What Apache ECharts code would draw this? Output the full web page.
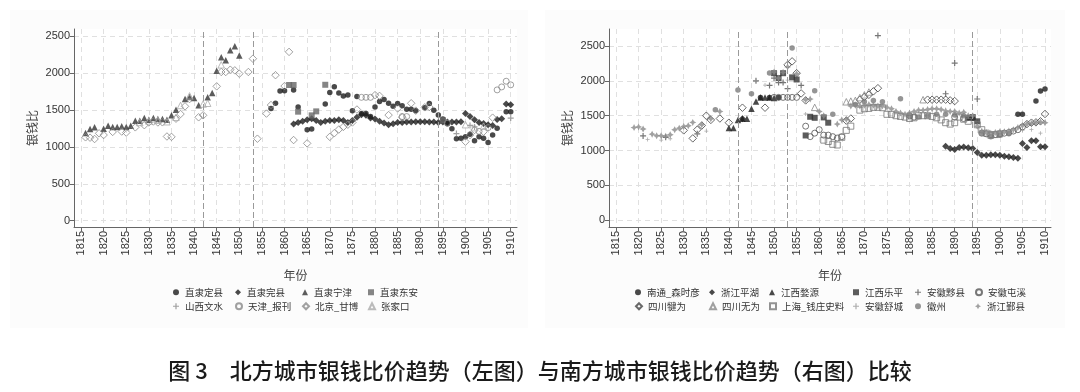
<!DOCTYPE html>
<html><head><meta charset="utf-8">
<script src="https://cdn.jsdelivr.net/npm/echarts@6/dist/echarts.min.js"></script>
<style>html,body{margin:0;padding:0;background:#fff}#c{width:1080px;height:392px}</style>
</head><body><div id="c"></div>
<script>
// ---------- tick labels ----------
const xTicks = [1815,1820,1825,1830,1835,1840,1845,1850,1855,1860,1865,1870,1875,1880,1885,1890,1895,1900,1905,1910];
const yTicks = [0,500,1000,1500,2000,2500];
const refYears = [1842,1853,1894];

// ---------- left chart (north) ----------
const lDingxian = [[1857,1520],[1858,1590],[1859,1755],[1860,1760],[1862,1770],[1863,1540],[1865,1230],[1866,1240],[1869,1580],[1870,1737],[1871,1812],[1872,1730],[1873,1688],[1874,1700],[1875,1487],[1876,1680],[1877,1450],[1878,1450],[1879,1410],[1880,1540],[1881,1615],[1882,1640],[1883,1590],[1884,1550],[1885,1585],[1886,1555],[1887,1510],[1888,1510],[1889,1490],[1891,1530],[1892,1585],[1893,1495],[1894,1430],[1895,1377],[1896,1313],[1897,1245],[1898,1110],[1899,1115],[1900,1137],[1901,1169],[1902,1083],[1903,1137],[1904,1115],[1905,1060],[1906,1160],[1907,1250],[1909,1476],[1910,1476]];
const lWanxian = [[1862,1310],[1863,1330],[1864,1345],[1865,1365],[1866,1380],[1867,1358],[1868,1330],[1869,1345],[1870,1358],[1871,1358],[1872,1367],[1873,1358],[1874,1331],[1875,1358],[1876,1399],[1877,1435],[1878,1426],[1879,1390],[1880,1376],[1881,1345],[1882,1322],[1883,1300],[1884,1313],[1885,1331],[1886,1331],[1887,1335],[1888,1335],[1889,1340],[1890,1340],[1891,1340],[1892,1335],[1893,1335],[1894,1330],[1895,1335],[1896,1335],[1897,1335],[1898,1335],[1899,1340],[1900,1450],[1901,1410],[1902,1365],[1903,1330],[1904,1315],[1905,1300],[1906,1290],[1907,1370],[1908,1380],[1909,1580],[1910,1570]];
const lNingjin = [[1816,1187],[1817,1241],[1818,1264],[1820,1246],[1821,1286],[1822,1268],[1823,1268],[1824,1277],[1825,1268],[1826,1286],[1827,1354],[1828,1354],[1829,1390],[1830,1367],[1831,1390],[1832,1377],[1833,1377],[1834,1367],[1835,1427],[1836,1503],[1838,1647],[1839,1674],[1840,1661],[1841,1562],[1843,1670],[1844,1728],[1845,2030],[1846,2212],[1847,2171],[1848,2306],[1849,2360],[1850,2238]];
const lDongan = [[1861,1837],[1862,1837],[1863,1476],[1866,1426],[1867,1480],[1869,1840],[1895,1360]];
const lWenshui = [[1898,1180],[1901,1290],[1902,1270],[1910,1390]];
const lTianjin = [[1877,1670],[1878,1670],[1879,1670],[1886,1410],[1887,1410],[1896,1320],[1903,1210],[1905,1260],[1907,1771],[1908,1811],[1909,1888],[1910,1839]];
const lBeijing = [[1816,1129],[1817,1124],[1818,1106],[1819,1183],[1820,1160],[1822,1202],[1824,1207],[1825,1193],[1827,1264],[1829,1293],[1830,1330],[1831,1343],[1832,1330],[1833,1332],[1834,1140],[1835,1135],[1836,1381],[1837,1444],[1838,1548],[1839,1647],[1841,1400],[1842,1427],[1845,1819],[1846,2013],[1847,2013],[1848,2044],[1849,2035],[1850,1990],[1852,2013],[1853,2193],[1854,1110],[1856,1450],[1857,1566],[1858,1970],[1860,1823],[1861,2285],[1862,1092],[1865,1047],[1870,1135],[1871,1185],[1872,1235],[1873,1270],[1874,1300],[1875,1330],[1876,1505],[1880,1700],[1881,1690],[1883,1430],[1885,1520],[1886,1400],[1888,1590],[1889,1490],[1891,1535],[1892,1540],[1900,1070],[1901,1160],[1902,1228],[1904,1205],[1906,1395]];
const lZhangjiakou = [[1828,1330],[1830,1350],[1832,1360],[1834,1340],[1836,1400],[1837,1560],[1839,1690],[1842,1580],[1843,1590],[1846,2110],[1900,1300],[1902,1260],[1904,1280]];

// ---------- right chart (south) ----------
const rNantong = [[1847,1760],[1849,1760],[1851,1760],[1893,1470],[1894,1460],[1904,1520],[1905,1520],[1908,1710],[1909,1855],[1910,1885]];
const rPinghu = [[1843,1455],[1888,1064],[1889,1030],[1890,1016],[1891,1045],[1892,1050],[1893,1040],[1894,1030],[1895,973],[1896,934],[1897,934],[1898,940],[1899,940],[1900,934],[1901,920],[1902,910],[1903,901],[1904,890],[1905,1100],[1906,1045],[1907,1140],[1908,1140],[1909,1055],[1910,1055]];
const rWuyuan = [[1840,1325],[1841,1325],[1842,1440],[1843,1455],[1844,1455],[1845,1600],[1846,1705],[1847,1760],[1848,1760],[1849,1760],[1850,1755]];
const rLeping = [[1850,2110],[1851,2040],[1852,2110],[1854,2050],[1855,2020],[1857,1217],[1858,1485],[1859,1470],[1861,1476],[1862,1400],[1893,1470],[1894,1480],[1895,1420]];
const rYixian = [[1821,1210],[1826,1190],[1833,1240],[1846,2000],[1849,1935],[1850,2040],[1851,1975],[1852,1975],[1853,1890],[1856,1935],[1873,2650],[1888,1815],[1890,2255],[1895,1740]];
const rTunxi = [[1850,1763],[1851,1763],[1852,1763],[1853,1763],[1854,1763],[1855,1763],[1857,1350],[1858,1200],[1859,1250],[1860,1300],[1861,1222],[1862,1222],[1863,1200],[1864,1180],[1865,1200],[1880,1500],[1881,1480],[1890,1480],[1892,1460],[1896,1250],[1897,1240],[1898,1230],[1899,1230],[1900,1240],[1901,1250],[1902,1260],[1903,1280],[1904,1300],[1905,1340]];
const rJianwei = [[1830,1290],[1832,1175],[1833,1300],[1834,1360],[1835,1500],[1836,1440],[1838,1460],[1840,1400],[1843,1615],[1848,1615],[1853,2230],[1854,2280],[1855,2110],[1856,1820],[1857,1720],[1866,1430],[1867,1460],[1869,1730],[1870,1770],[1871,1800],[1872,1850],[1873,1895],[1884,1730],[1885,1730],[1886,1730],[1887,1730],[1888,1730],[1889,1720],[1890,1710],[1906,1380],[1907,1400],[1908,1405],[1909,1420],[1910,1525]];
const rWuwei = [[1859,1620],[1866,1700],[1867,1710],[1868,1720],[1869,1760],[1870,1800],[1871,1840],[1883,1730]];
const rShanghai = [[1861,1150],[1862,1130],[1863,1090],[1864,1080],[1865,1190],[1866,1290],[1867,1350],[1869,1580],[1870,1600],[1871,1605],[1872,1620],[1873,1620],[1874,1615],[1875,1520],[1876,1520],[1877,1500],[1878,1490],[1879,1480],[1880,1460],[1881,1470],[1882,1500],[1883,1500],[1884,1500],[1885,1490],[1886,1470],[1887,1440],[1888,1400],[1889,1380],[1890,1400],[1891,1480],[1892,1450],[1893,1420],[1895,1370],[1896,1300],[1897,1250],[1898,1220],[1899,1230],[1900,1240]];
const rShucheng = [[1822,1160],[1825,1150],[1827,1170],[1833,1240],[1835,1280],[1846,2000],[1848,1940],[1853,2010],[1857,1525],[1868,1650],[1905,1290],[1907,1300],[1909,1250]];
const rHuizhou = [[1837,1586],[1842,1870],[1845,1816],[1849,2113],[1854,2470],[1859,1859],[1863,1520],[1868,1660],[1870,1700],[1872,1720],[1874,1700],[1878,1744],[1880,1500],[1882,1480],[1884,1500],[1886,1520],[1888,1520],[1890,1510],[1892,1500],[1896,1250],[1898,1200],[1900,1220],[1902,1240]];
const rYinxian = [[1819,1330],[1820,1340],[1821,1310],[1823,1236],[1824,1212],[1825,1212],[1826,1205],[1827,1227],[1828,1298],[1829,1322],[1830,1346],[1831,1356],[1832,1404],[1834,1370],[1836,1457],[1838,1560],[1850,2127],[1851,2040],[1852,2122],[1853,2200],[1855,2103],[1857,1730],[1858,1739],[1860,1560],[1861,1500],[1864,1380],[1865,1440],[1866,1450],[1867,1640],[1868,1650],[1869,1640],[1870,1650],[1871,1660],[1872,1650],[1873,1640],[1874,1640],[1875,1620],[1876,1600],[1877,1560],[1878,1540],[1879,1520],[1880,1540],[1881,1560],[1882,1580],[1883,1580],[1884,1590],[1885,1600],[1886,1600],[1887,1590],[1888,1570],[1889,1560],[1890,1560],[1891,1540],[1892,1550],[1893,1500],[1894,1500],[1895,1350],[1896,1280],[1897,1260],[1898,1250],[1899,1260],[1900,1270],[1901,1270],[1902,1280],[1903,1300],[1904,1330],[1905,1360],[1906,1380],[1907,1390],[1908,1400],[1909,1410],[1910,1400]];

// ---------- styling ----------
const CJK = '"Noto Sans CJK SC", sans-serif';
const NUM = '"Liberation Sans", Arial, sans-serif';
const PLUS = 'path://M-1,-5H1V-1H5V1H1V5H-1V1H-5V-1H-1Z';
const STAR = 'path://M0,-5L1.7,-1.7L5,0L1.7,1.7L0,5L-1.7,1.7L-5,0L-1.7,-1.7Z';
const HOL = 'rgba(255,255,255,0)';

// name, data, symbol, size, fill, border, grid
const defs = [
  ['直隶定县', lDingxian, 'circle', 5.5, '#1b1b1b', null, 0],
  ['直隶完县', lWanxian, 'diamond', 7, '#1b1b1b', null, 0],
  ['直隶宁津', lNingjin, 'triangle', 6.5, '#333', null, 0],
  ['直隶东安', lDongan, 'rect', 6, '#666', null, 0],
  ['山西文水', lWenshui, PLUS, 6, '#888', null, 0],
  ['天津_报刊', lTianjin, 'circle', 6, HOL, '#888', 0],
  ['北京_甘博', lBeijing, 'diamond', 7.5, HOL, '#8a8a8a', 0],
  ['张家口', lZhangjiakou, 'triangle', 6.5, HOL, '#aaa', 0],
  ['南通_森时彦', rNantong, 'circle', 5.5, '#1b1b1b', null, 1],
  ['浙江平湖', rPinghu, 'diamond', 7, '#1b1b1b', null, 1],
  ['江西婺源', rWuyuan, 'triangle', 6.5, '#1b1b1b', null, 1],
  ['江西乐平', rLeping, 'rect', 6, '#333', null, 1],
  ['安徽黟县', rYixian, PLUS, 6, '#555', null, 1],
  ['安徽屯溪', rTunxi, 'circle', 6, HOL, '#555', 1],
  ['四川犍为', rJianwei, 'diamond', 7.5, HOL, '#444', 1],
  ['四川无为', rWuwei, 'triangle', 6.5, HOL, '#888', 1],
  ['上海_钱庄史料', rShanghai, 'rect', 6, HOL, '#777', 1],
  ['安徽舒城', rShucheng, PLUS, 4, '#999', null, 1],
  ['徽州', rHuizhou, 'circle', 5.5, '#7a7a7a', null, 1],
  ['浙江鄞县', rYinxian, STAR, 7, '#8a8a8a', null, 1]
];

// legend layout: icon centre x per column, row centre y
const legLeftCols = [176, 238, 305, 371];
const legRightCols = [638, 712, 772, 856, 918, 978];
const legRows = [293.5, 307.5];

const series = defs.map((d) => ({
  type: 'scatter', name: d[0], data: d[1], symbol: d[2], symbolSize: d[3],
  xAxisIndex: d[6], yAxisIndex: d[6], silent: true, animation: false,
  itemStyle: d[5] ? {color: d[4], borderColor: d[5], borderWidth: 1} : {color: d[4]}
}));
[0, 8].forEach((si) => {
  series[si].markLine = {
    symbol: 'none', silent: true, animation: false, label: {show: false},
    lineStyle: {color: '#9a9a9a', type: [6, 3], width: 1},
    data: refYears.map(v => ({xAxis: v}))
  };
});

const legends = defs.map((d, i) => {
  const gi = d[6];
  const idx = gi === 0 ? i : i - 8;
  const cols = gi === 0 ? legLeftCols : legRightCols;
  const c = idx % cols.length, r = Math.floor(idx / cols.length);
  return {
    data: [{name: d[0], icon: d[2]}], left: cols[c] - 3, top: legRows[r] - 6,
    itemWidth: 6, itemHeight: 6, padding: 0, selectedMode: false,
    textStyle: {fontSize: 9.5, color: '#333', fontFamily: CJK, padding: [0, 0, 0, 1]}
  };
});

function xAxis(gi, min, max) {
  return {
    type: 'value', gridIndex: gi, min: min, max: max,
    name: '年份', nameLocation: 'middle', nameGap: 42,
    nameTextStyle: {fontSize: 12, color: '#444', fontFamily: CJK},
    axisLine: {show: true, onZero: false, lineStyle: {color: '#666', width: 1}},
    axisTick: {show: true, length: 4, lineStyle: {color: '#666'}, customValues: xTicks},
    axisLabel: {customValues: xTicks, rotate: 90, fontSize: 11, color: '#333', fontFamily: NUM, margin: 4, formatter: v => String(v)},
    splitLine: {show: true, lineStyle: {color: '#e0e0e0', type: [5, 4], width: 1}}
  };
}
function yAxis(gi, min, max, gap) {
  return {
    type: 'value', gridIndex: gi, min: min, max: max,
    name: '银钱比', nameLocation: 'middle', nameGap: gap,
    nameTextStyle: {fontSize: 12, color: '#444', fontFamily: CJK},
    axisLine: {show: true, onZero: false, lineStyle: {color: '#666', width: 1}},
    axisTick: {show: true, length: 4, lineStyle: {color: '#666'}, customValues: yTicks},
    axisLabel: {customValues: yTicks, fontSize: 11, color: '#333', fontFamily: NUM, margin: 4, formatter: v => String(v)},
    splitLine: {show: true, lineStyle: {color: '#e0e0e0', type: [5, 4], width: 1}}
  };
}

const chart = echarts.init(document.getElementById('c'), null, {renderer: 'canvas'});
chart.setOption({
  backgroundColor: '#fff',
  animation: false,
  grid: [
    {left: 74, top: 29, width: 443, height: 198, show: true, backgroundColor: '#fff', borderWidth: 0},
    {left: 609, top: 29, width: 442, height: 198, show: true, backgroundColor: '#fff', borderWidth: 0}
  ],
  xAxis: [xAxis(0, 1813.45, 1911.39), xAxis(1, 1813.45, 1911.33)],
  yAxis: [yAxis(0, -85, 2595, 36), yAxis(1, -96, 2744, 36)],
  legend: legends,
  series: series,
  graphic: [
    {type: 'rect', z: -10, shape: {x: 10, y: 10, width: 518, height: 318}, style: {fill: '#fcfcfc'}},
    {type: 'rect', z: -10, shape: {x: 545, y: 10, width: 520, height: 318}, style: {fill: '#fcfcfc'}},
    {type: 'text', left: 'center', top: 360, z: 10,
     style: {text: '图 3　北方城市银钱比价趋势（左图）与南方城市银钱比价趋势（右图）比较', font: '500 22px "Noto Sans CJK SC"', fill: '#1a1a1a'}}
  ]
});
</script></body></html>
